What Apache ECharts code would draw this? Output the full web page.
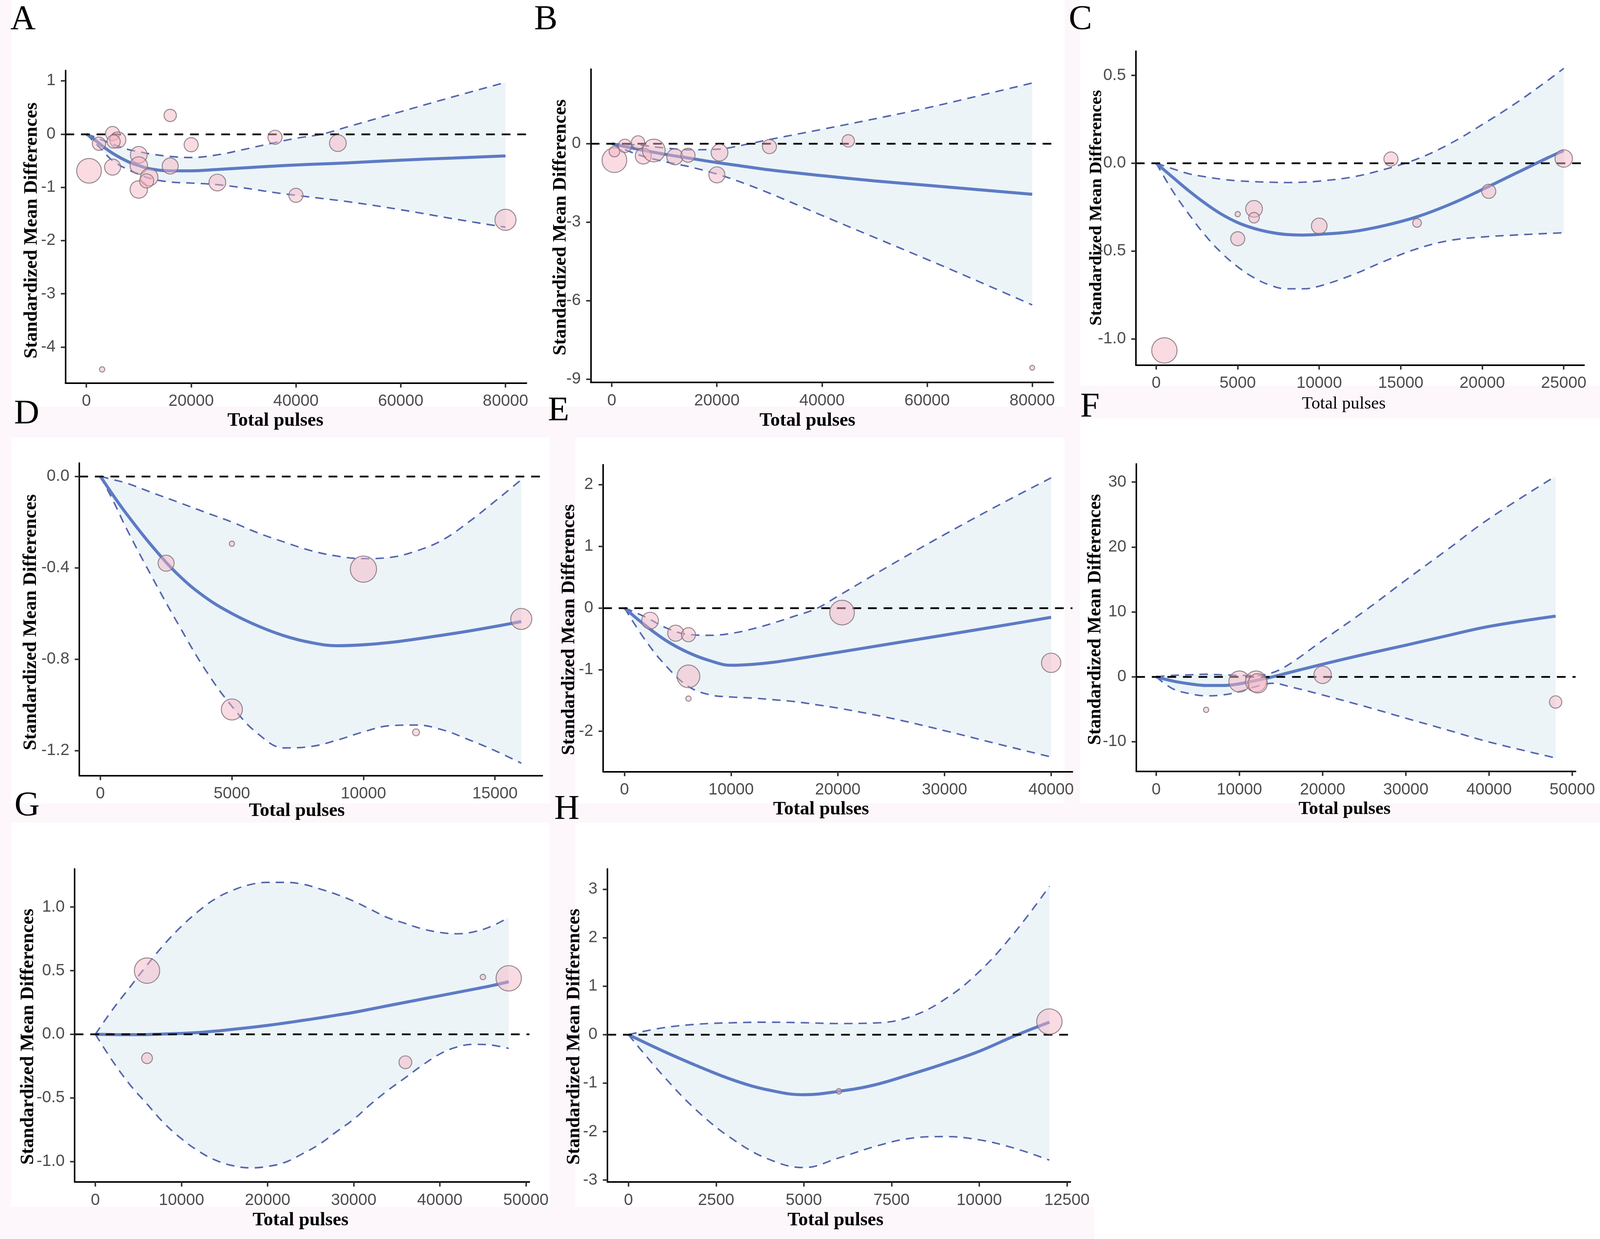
<!DOCTYPE html>
<html>
<head>
<meta charset="utf-8">
<title>Dose-response meta-regression panels</title>
<script src="https://cdn.jsdelivr.net/npm/echarts@6/dist/echarts.min.js"></script>
<style>
  html, body { margin: 0; padding: 0; background: #fdf6fb; overflow: hidden; }
  #main { width: 100vw; height: 100vh; }
</style>
</head>
<body>
<div id="main"></div>
<script>
// ---------- data ----------
// Panel A
var curveXA = [0, 1500, 3000, 5000, 8000, 10000, 12000, 16000, 20000, 25000, 30000, 36000, 40000, 45000, 50000, 60000, 70000, 80000];
var fitA    = [0, -0.10, -0.22, -0.36, -0.52, -0.59, -0.65, -0.69, -0.69, -0.665, -0.635, -0.60, -0.58, -0.56, -0.54, -0.49, -0.45, -0.41];
var upperA  = [0, -0.05, -0.11, -0.19, -0.29, -0.33, -0.37, -0.42, -0.44, -0.39, -0.29, -0.16, -0.08, 0.0, 0.14, 0.42, 0.70, 0.97];
var lowerA  = [0, -0.15, -0.30, -0.50, -0.67, -0.75, -0.83, -0.90, -0.92, -0.95, -1.01, -1.10, -1.15, -1.21, -1.27, -1.42, -1.59, -1.75];
var studiesA = [[500, -0.69, 52], [2400, -0.18, 15], [5000, 0.01, 17], [6000, -0.11, 22], [5200, -0.14, 15],
  [5000, -0.62, 22], [10000, -0.39, 24], [10000, -0.59, 26], [10000, -1.04, 26], [12000, -0.81, 26],
  [11500, -0.88, 17], [16000, 0.35, 13], [16000, -0.60, 22], [20000, -0.20, 17], [25000, -0.91, 24],
  [36000, -0.06, 17], [40000, -1.15, 17], [48000, -0.17, 24], [80000, -1.61, 38], [3000, -4.42, 2.4]];
var xTicksA = [0, 20000, 40000, 60000, 80000];
var yTicksA = [-4, -3, -2, -1, 0, 1];

// Panel B
var curveXB = [0, 5000, 10000, 15000, 20000, 25000, 30000, 40000, 50000, 60000, 70000, 80000];
var fitB    = [0, -0.21, -0.40, -0.56, -0.72, -0.86, -1.0, -1.22, -1.42, -1.59, -1.76, -1.93];
var upperB  = [0, -0.05, -0.16, -0.23, -0.21, -0.05, 0.16, 0.55, 0.95, 1.37, 1.84, 2.32];
var lowerB  = [0, -0.42, -0.68, -0.89, -1.16, -1.50, -1.89, -2.74, -3.58, -4.42, -5.28, -6.16];
var studiesB = [[500, -0.63, 52], [500, -0.30, 9.5], [2500, -0.08, 15], [5000, 0.05, 15], [6000, -0.47, 22],
  [8000, -0.26, 44], [12000, -0.50, 22], [14500, -0.44, 17], [20500, -0.34, 24], [20000, -1.19, 22],
  [30000, -0.11, 17], [45000, 0.11, 13], [80000, -8.56, 2]];
var xTicksB = [0, 20000, 40000, 60000, 80000];
var yTicksB = [-9, -6, -3, 0];

// Panel C
var curveXC = [0, 1000, 2000, 3000, 4000, 5000, 6000, 7000, 8000, 9000, 10000, 12000, 14000, 16000, 18000, 20000, 22000, 24000, 25000];
var fitC    = [0, -0.079, -0.157, -0.228, -0.29, -0.338, -0.371, -0.393, -0.406, -0.409, -0.405, -0.39, -0.355, -0.305, -0.235, -0.15, -0.06, 0.03, 0.072];
var upperC  = [0, -0.031, -0.06, -0.077, -0.091, -0.10, -0.105, -0.108, -0.11, -0.108, -0.102, -0.079, -0.035, 0.024, 0.11, 0.22, 0.338, 0.47, 0.54];
var lowerC  = [0, -0.157, -0.29, -0.41, -0.51, -0.59, -0.652, -0.695, -0.715, -0.715, -0.70, -0.637, -0.558, -0.487, -0.44, -0.42, -0.409, -0.40, -0.396];
var studiesC = [[500, -1.066, 55], [5000, -0.29, 2.4], [5000, -0.43, 17], [6000, -0.26, 24], [6000, -0.31, 9.5],
  [10000, -0.357, 21], [14400, 0.024, 17], [16000, -0.34, 6.5], [20400, -0.16, 17], [25000, 0.027, 26]];
var xTicksC = [0, 5000, 10000, 15000, 20000, 25000];
var yTicksC = [-1.0, -0.5, 0.0, 0.5];

// Panel D
var curveXD = [0, 500, 1000, 2000, 3000, 4000, 5000, 6000, 7000, 8000, 9000, 10000, 11000, 12000, 13000, 14000, 15000, 16000];
var fitD    = [0, -0.085, -0.165, -0.31, -0.435, -0.53, -0.60, -0.655, -0.698, -0.727, -0.741, -0.737, -0.727, -0.712, -0.695, -0.677, -0.657, -0.635];
var upperD  = [0, -0.015, -0.03, -0.073, -0.115, -0.158, -0.20, -0.248, -0.288, -0.325, -0.349, -0.36, -0.355, -0.327, -0.279, -0.20, -0.109, -0.015];
var lowerD  = [0, -0.11, -0.23, -0.448, -0.655, -0.848, -1.006, -1.127, -1.188, -1.182, -1.154, -1.118, -1.091, -1.088, -1.109, -1.152, -1.20, -1.255];
var studiesD = [[2500, -0.38, 22], [5000, -0.295, 2.4], [5000, -1.02, 38], [10000, -0.406, 59], [12000, -1.12, 4.2], [16000, -0.624, 38]];
var xTicksD = [0, 5000, 10000, 15000];
var yTicksD = [-1.2, -0.8, -0.4, 0.0];

// Panel E
var curveXE = [0, 2000, 4000, 6000, 8000, 10000, 12000, 14000, 16000, 18000, 20000, 25000, 30000, 35000, 40000];
var fitE    = [0, -0.29, -0.54, -0.725, -0.855, -0.93, -0.915, -0.88, -0.83, -0.775, -0.72, -0.58, -0.44, -0.298, -0.152];
var upperE  = [0, -0.15, -0.33, -0.43, -0.444, -0.413, -0.34, -0.242, -0.13, -0.01, 0.19, 0.70, 1.19, 1.66, 2.11];
var lowerE  = [0, -0.534, -0.96, -1.274, -1.408, -1.444, -1.462, -1.489, -1.52, -1.57, -1.623, -1.789, -1.99, -2.206, -2.417];
var studiesE = [[2400, -0.206, 24], [4800, -0.41, 22], [6000, -0.435, 17], [6000, -1.11, 44], [6000, -1.47, 2.4], [20400, -0.076, 52], [40000, -0.89, 32]];
var xTicksE = [0, 10000, 20000, 30000, 40000];
var yTicksE = [-2, -1, 0, 1, 2];

// Panel F
var curveXF = [0, 2000, 4000, 6000, 8000, 10000, 12000, 14000, 16000, 20000, 25000, 30000, 35000, 40000, 48000];
var fitF    = [0, -0.65, -1.08, -1.34, -1.34, -1.08, -0.56, 0, 0.65, 1.94, 3.45, 4.87, 6.34, 7.76, 9.35];
var upperF  = [0, 0.22, 0.3, 0.39, 0.3, 0.22, 0.2, 0.65, 1.94, 5.6, 10.1, 14.9, 19.6, 24.35, 30.9];
var lowerF  = [0, -1.85, -2.59, -2.93, -2.8, -2.28, -1.5, -1.0, -1.5, -2.8, -4.53, -6.38, -8.19, -10.04, -12.5];
var studiesF = [[6000, -5.09, 2.4], [10000, -0.73, 38], [12000, -0.73, 38], [12200, -1.0, 32], [20000, 0.30, 26], [48000, -3.88, 13]];
var xTicksF = [0, 10000, 20000, 30000, 40000, 50000];
var yTicksF = [-10, 0, 10, 20, 30];

// Panel G
var curveXG = [0, 2000, 4000, 6000, 8000, 10000, 12000, 14000, 16000, 18000, 20000, 22000, 24000, 26000, 28000, 30000, 32000, 34000, 36000, 38000, 40000, 42000, 44000, 46000, 48000];
var fitG    = [0, -0.002, -0.003, -0.002, 0.002, 0.007, 0.014, 0.025, 0.039, 0.054, 0.07, 0.088, 0.108, 0.128, 0.15, 0.172, 0.198, 0.225, 0.251, 0.277, 0.303, 0.329, 0.355, 0.382, 0.413];
var upperG  = [0, 0.194, 0.369, 0.544, 0.707, 0.849, 0.969, 1.068, 1.133, 1.177, 1.194, 1.194, 1.181, 1.144, 1.1, 1.046, 0.98, 0.915, 0.871, 0.828, 0.801, 0.79, 0.806, 0.849, 0.919];
var lowerG  = [0, -0.21, -0.395, -0.548, -0.70, -0.821, -0.919, -0.991, -1.033, -1.05, -1.039, -1.007, -0.941, -0.865, -0.766, -0.668, -0.548, -0.439, -0.341, -0.242, -0.155, -0.10, -0.079, -0.085, -0.111];
var studiesG = [[6000, 0.50, 55], [6000, -0.188, 10], [36000, -0.22, 14], [45000, 0.45, 2.6], [48000, 0.44, 55]];
var xTicksG = [0, 10000, 20000, 30000, 40000, 50000];
var yTicksG = [-1.0, -0.5, 0.0, 0.5, 1.0];

// Panel H
var curveXH = [0, 1000, 2000, 3000, 4000, 5000, 6000, 7000, 8000, 9000, 10000, 11000, 12000];
var fitH    = [0, -0.343, -0.657, -0.94, -1.143, -1.24, -1.17, -1.04, -0.829, -0.6, -0.343, -0.029, 0.257];
var upperH  = [0, 0.143, 0.217, 0.246, 0.257, 0.246, 0.229, 0.24, 0.36, 0.72, 1.3, 2.1, 3.06];
var lowerH  = [0, -0.857, -1.6, -2.171, -2.571, -2.743, -2.543, -2.314, -2.143, -2.103, -2.171, -2.343, -2.589];
var studiesH = [[6000, -1.17, 2.6], [12000, 0.27, 55]];
var xTicksH = [0, 2500, 5000, 7500, 10000, 12500];
var yTicksH = [-3, -2, -1, 0, 1, 2, 3];

// ---------- sizing: layout is in 4328x3172 units, scaled to the window ----------
var W = window.innerWidth || 4328, H = window.innerHeight || 3172;
var sx = W / 4328, sy = H / 3172, sf = Math.sqrt(sx * sy);
function X(v) { return v * sx; }
function Y(v) { return v * sy; }
function S(v) { return v * sf; }

var SANS = "'Liberation Sans', Arial, sans-serif";
var SERIF = "'Liberation Serif', 'Times New Roman', serif";
var BAND = '#ecf4f8';
var CI_BLUE = '#5566ad';
var FIT_BLUE = '#5d7bc4';

// layout of each panel and its axis window
var panels = [
  { xs: curveXA, fit: fitA, up: upperA, lo: lowerA, pts: studiesA, xt: xTicksA, yt: yTicksA, dec: 0,
    grid: [177, 180.5, 1247, 800], xr: [-4000, 84000], yr: [-4.675, 1.194] },
  { xs: curveXB, fit: fitB, up: upperB, lo: lowerB, pts: studiesB, xt: xTicksB, yt: yTicksB, dec: 0,
    grid: [1598, 177, 1251, 802], xr: [-4000, 84000], yr: [-9.12, 2.85] },
  { xs: curveXC, fit: fitC, up: upperC, lo: lowerC, pts: studiesC, xt: xTicksC, yt: yTicksC, dec: 1,
    grid: [3072.5, 131, 1212.5, 803.5], xr: [-1250, 26250], yr: [-1.149, 0.638] },
  { xs: curveXD, fit: fitD, up: upperD, lo: lowerD, pts: studiesD, xt: xTicksD, yt: yTicksD, dec: 1,
    grid: [214.5, 1185.5, 1252.5, 800], xr: [-800, 16800], yr: [-1.309, 0.058] },
  { xs: curveXE, fit: fitE, up: upperE, lo: lowerE, pts: studiesE, xt: xTicksE, yt: yTicksE, dec: 0,
    grid: [1631.5, 1189.7, 1269.5, 785.8], xr: [-2000, 42000], yr: [-2.655, 2.323] },
  { xs: curveXF, fit: fitF, up: upperF, lo: lowerF, pts: studiesF, xt: xTicksF, yt: yTicksF, dec: 0,
    grid: [3073.5, 1187.6, 1188.5, 787.2], xr: [-2400, 50400], yr: [-14.57, 32.8] },
  { xs: curveXG, fit: fitG, up: upperG, lo: lowerG, pts: studiesG, xt: xTicksG, yt: yTicksG, dec: 1,
    grid: [202, 2224.5, 1230, 801.5], xr: [-2400, 50400], yr: [-1.161, 1.30] },
  { xs: curveXH, fit: fitH, up: upperH, lo: lowerH, pts: studiesH, xt: xTicksH, yt: yTicksH, dec: 0,
    grid: [1643, 2224.5, 1252.5, 801.5], xr: [-600, 12600], yr: [-3.04, 3.42] }
];

var letters = [['A', 28, 50], ['B', 1445, 50], ['C', 2891, 50], ['D', 38, 1060], ['E', 1482, 1052],
  ['F', 2922, 1042], ['G', 39, 2063], ['H', 1499, 2072]];
var xTitles = [[745, 1077, 50, 'bold'], [2184, 1077, 50, 'bold'], [3635, 1034, 46, 'normal'], [803, 2076, 50, 'bold'],
  [2221, 2072, 50, 'bold'], [3637, 2072, 48, 'bold'], [813, 3124, 50, 'bold'], [2260, 3124, 50, 'bold']];
var yTitles = [[86, 590, 50], [1517, 582, 50], [2966, 532, 46], [84, 1593, 50], [1540, 1612, 49],
  [2964, 1586, 49], [77, 2654, 50], [1554, 2654, 50]];

function zip(xs, ys) { return xs.map(function (x, i) { return [x, ys[i]]; }); }

var grids = [], xAxes = [], yAxes = [], series = [];

panels.forEach(function (p, i) {
  grids.push({ left: X(p.grid[0]), top: Y(p.grid[1]), width: X(p.grid[2]), height: Y(p.grid[3]) });

  var tickStyle = { show: true, length: S(12), lineStyle: { color: '#333', width: S(4) } };
  var labelStyle = { fontSize: S(43), color: '#4d4d4d', fontFamily: SANS };
  var lineStyle = { color: '#000', width: S(4) };

  xAxes.push({
    type: 'value', gridIndex: i, min: p.xr[0], max: p.xr[1], z: 10,
    axisLine: { show: true, onZero: false, lineStyle: lineStyle },
    axisTick: Object.assign({ customValues: p.xt }, tickStyle),
    axisLabel: Object.assign({ customValues: p.xt, margin: S(27), formatter: function (v) { return String(v); } }, labelStyle),
    splitLine: { show: false }
  });
  yAxes.push({
    type: 'value', gridIndex: i, min: p.yr[0], max: p.yr[1], z: 10,
    axisLine: { show: true, onZero: false, lineStyle: lineStyle },
    axisTick: Object.assign({ customValues: p.yt }, tickStyle),
    axisLabel: Object.assign({ customValues: p.yt, margin: S(26), formatter: function (v) { return v.toFixed(p.dec); } }, labelStyle),
    splitLine: { show: false }
  });

  var common = { xAxisIndex: i, yAxisIndex: i, smooth: 0.4, symbol: 'none', silent: true };
  // confidence band: upper bound filled down in blue, lower bound filled down in white
  series.push(Object.assign({ type: 'line', data: zip(p.xs, p.up), z: 1,
    lineStyle: { opacity: 0 }, areaStyle: { color: BAND, opacity: 1, origin: 'start' } }, common));
  series.push(Object.assign({ type: 'line', data: zip(p.xs, p.lo), z: 1,
    lineStyle: { opacity: 0 }, areaStyle: { color: '#ffffff', opacity: 1, origin: 'start' } }, common));
  // dashed confidence limits
  series.push(Object.assign({ type: 'line', data: zip(p.xs, p.up), z: 3,
    lineStyle: { color: CI_BLUE, width: S(4), type: [S(22), S(16)] } }, common));
  series.push(Object.assign({ type: 'line', data: zip(p.xs, p.lo), z: 3,
    lineStyle: { color: CI_BLUE, width: S(4), type: [S(22), S(16)] } }, common));
  // fitted curve with the zero reference
  series.push(Object.assign({ type: 'line', data: zip(p.xs, p.fit), z: 4,
    lineStyle: { color: FIT_BLUE, width: S(8) },
    markLine: { silent: true, symbol: 'none', label: { show: false }, animation: false,
      lineStyle: { color: '#000', width: S(4.5), type: [S(23), S(18)] }, data: [{ yAxis: 0 }] } }, common));
  series.push({
    type: 'scatter', xAxisIndex: i, yAxisIndex: i, data: p.pts, z: 5, silent: true,
    symbolSize: function (v) { return S(9 * Math.sqrt(v[2])); },
    itemStyle: { color: 'rgba(244,180,195,0.6)', borderColor: '#7d6d74', borderWidth: S(2.5) }
  });
});

// faint pink page with white panel cards
var whiteRects = [[30, 0, 2850, 1041], [2921, 0, 1407, 988],
  [30, 1120, 1457, 937], [1556, 1120, 1324, 937], [2921, 1071, 1407, 986],
  [30, 2106, 1457, 984], [1556, 2106, 1404, 984], [2960, 2106, 1368, 1066]];

var elements = [];
whiteRects.forEach(function (r) {
  elements.push({ type: 'rect', silent: true, z: -10,
    shape: { x: X(r[0]), y: Y(r[1]), width: X(r[2]), height: Y(r[3]) }, style: { fill: '#ffffff' } });
});
letters.forEach(function (l) {
  elements.push({ type: 'text', silent: true, z: 10, x: X(l[1]), y: Y(l[2]),
    style: { text: l[0], font: S(92) + 'px ' + SERIF, fill: '#000', align: 'left', verticalAlign: 'middle' } });
});
xTitles.forEach(function (t) {
  elements.push({ type: 'text', silent: true, z: 10, x: X(t[0]), y: Y(t[1]),
    style: { text: 'Total pulses', font: t[3] + ' ' + S(t[2]) + 'px ' + SERIF, fill: '#000', align: 'center', verticalAlign: 'middle' } });
});
yTitles.forEach(function (t) {
  elements.push({ type: 'text', silent: true, z: 10, x: X(t[0]), y: Y(t[1]), rotation: Math.PI / 2,
    style: { text: 'Standardized Mean Differences', font: 'bold ' + S(t[2]) + 'px ' + SERIF, fill: '#000', align: 'center', verticalAlign: 'middle' } });
});

var chart = echarts.init(document.getElementById('main'), null, { renderer: 'canvas', width: W, height: H });
chart.setOption({
  backgroundColor: '#fdf6fb',
  animation: false,
  grid: grids,
  xAxis: xAxes,
  yAxis: yAxes,
  series: series,
  graphic: { elements: elements }
});
</script>
</body>
</html>
